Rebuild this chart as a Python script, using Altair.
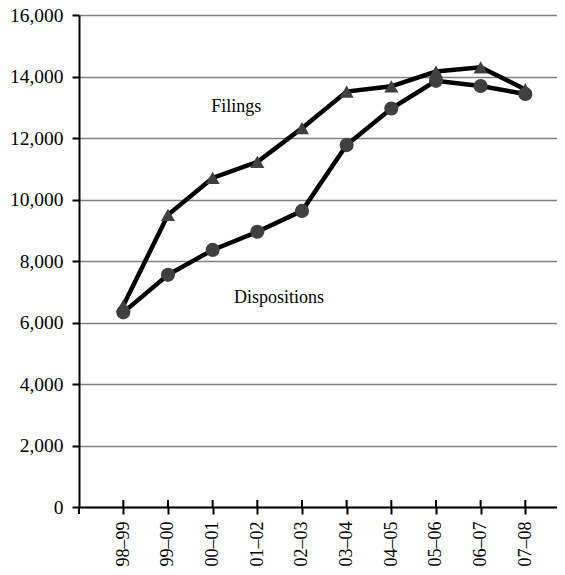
import altair as alt
import pandas as pd

periods = ["98–99", "99–00", "00–01", "01–02", "02–03", "03–04", "04–05", "05–06", "06–07", "07–08"]
filings = [6550, 9500, 10700, 11220, 12320, 13510, 13680, 14160, 14300, 13580]
dispositions = [6330, 7550, 8360, 8950, 9630, 11770, 12960, 13860, 13690, 13430]
y_ticks = [0, 2000, 4000, 6000, 8000, 10000, 12000, 14000, 16000]

FONT = "Liberation Serif"

rows = []
for p, f, d in zip(periods, filings, dispositions):
    rows.append({"period": p, "series": "Dispositions", "value": d})
    rows.append({"period": p, "series": "Filings", "value": f})
df = pd.DataFrame(rows)
df_p = pd.DataFrame({"period": periods})

x_enc = alt.X(
    "period:N",
    sort=periods,
    scale=alt.Scale(type="point", domain=periods, padding=0.851, align=0.583),
    axis=alt.Axis(
        title=None, grid=False, labelAngle=270, labelFont=FONT, labelFontSize=18,
        labelColor="black", domainColor="black", domainWidth=2, tickColor="black",
        tickWidth=2, tickSize=7, labelPadding=7,
    ),
)
y_enc = alt.Y(
    "value:Q",
    scale=alt.Scale(domain=[0, 16000], nice=False),
    axis=alt.Axis(
        title=None, values=y_ticks, format=",.0f", labelFont=FONT, labelFontSize=19.5,
        labelColor="black", domainColor="black", domainWidth=2, tickColor="black",
        tickWidth=2, tickSize=7, labelPadding=9, grid=True, gridColor="#808080",
        gridWidth=1.3,
    ),
)

lines = alt.Chart(df).mark_line(color="black", strokeWidth=4.5).encode(
    x=x_enc, y=y_enc, detail="series:N"
)
points = alt.Chart(df).mark_point(filled=True, opacity=1, color="#404040", size=200).encode(
    x=x_enc, y=y_enc,
    shape=alt.Shape("series:N", scale=alt.Scale(domain=["Dispositions", "Filings"], range=["circle", "triangle-up"]), legend=None),
)

ann_f = pd.DataFrame({"period": ["01–02"], "value": [13000], "label": ["Filings"]})
ann_d = pd.DataFrame({"period": ["02–03"], "value": [6800], "label": ["Dispositions"]})
text_f = alt.Chart(ann_f).mark_text(font=FONT, fontSize=18, color="black", dx=-21).encode(
    x=x_enc, y=y_enc, text="label:N"
)
text_d = alt.Chart(ann_d).mark_text(font=FONT, fontSize=18, color="black", dx=-23).encode(
    x=x_enc, y=y_enc, text="label:N"
)

inner_ticks = alt.Chart(df_p).mark_rule(color="black", strokeWidth=2).encode(
    x=x_enc, y=alt.value(485), y2=alt.value(492)
)
left_ext = alt.Chart(df_p.head(1)).mark_rule(color="black", strokeWidth=2).encode(
    x=alt.value(0), y=alt.value(492), y2=alt.value(499)
)

chart = alt.layer(lines, points, text_f, text_d, inner_ticks, left_ext).properties(
    width=478, height=492,
    autosize=alt.AutoSizeParams(type="none"),
    padding={"left": 71, "top": 7, "right": 0, "bottom": 60},
).configure_view(stroke=None).configure(background="white")

chart.save("out.html", embed_options={"renderer": "svg", "actions": False})
